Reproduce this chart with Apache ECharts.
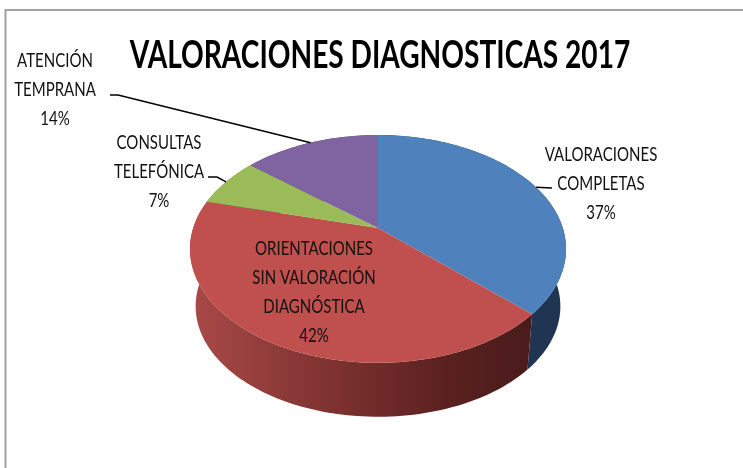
<!DOCTYPE html>
<html>
<head>
<meta charset="utf-8">
<style>
  html, body { margin: 0; padding: 0; background: #fff; }
  #chart { width: 743px; height: 468px; }
</style>
<script src="https://cdn.jsdelivr.net/npm/echarts@6/dist/echarts.min.js"></script>
</head>
<body>
<div id="chart"></div>
<script>
var titleText = 'VALORACIONES DIAGNOSTICAS 2017'
var categories = ['VALORACIONES\nCOMPLETAS', 'ORIENTACIONES\nSIN VALORACIÓN\nDIAGNÓSTICA', 'CONSULTAS\nTELEFÓNICA', 'ATENCIÓN\nTEMPRANA']
var values = [37, 42, 7, 14]
var topColors = ['#4F81BD', '#C0504D', '#9BBB59', '#8064A2']

// pie geometry (perspective of a tilted disc)
var cx = 378
var cy = 228
var radius = 184.8
var squash = 110
var persp = 0.184
var depth = 58
var bottomScale = 0.97

var labelFont = '19px Lato, sans-serif'
var labelSqueeze = 0.79
var labelBoxes = [
  { x: 601, y: 184 },
  { x: 314, y: 292 },
  { x: 159, y: 172 },
  { x: 55, y: 90 }
]
// start of each leader line, null = label sits on the slice
var leaderStarts = [[552, 188], null, [208, 177], [110, 95]]
var leaderBends = [null, null, [217, 177], [118, 95]]

var total = values.reduce(function (a, b) { return a + b }, 0)

function project (turn, scale, dy) {
  var a = turn * 2 * Math.PI
  var u = Math.sin(a)
  var v = Math.cos(a)
  var w = 1 + persp * v
  return [cx + scale * radius * u / w, cy + dy - scale * squash * v / w]
}

function arc (from, to, scale, dy) {
  var pts = []
  var steps = Math.max(4, Math.ceil((to - from) * 240))
  for (var i = 0; i <= steps; i++) {
    pts.push(project(from + (to - from) * i / steps, scale, dy))
  }
  return pts
}

function wallFill (i) {
  if (i === 0) return '#1F3552'
  if (i === 1) {
    return new echarts.graphic.LinearGradient(0, 0, 1, 0, [
      { offset: 0, color: '#A94A47' },
      { offset: 0.4, color: '#7F3331' },
      { offset: 0.75, color: '#5A2120' },
      { offset: 1, color: '#4A1B1B' }
    ])
  }
  return i === 2 ? '#5D7035' : '#4C3C61'
}

function renderItem (params, api) {
  var i = params.dataIndex
  var before = 0
  for (var k = 0; k < i; k++) before += values[k]
  var from = before / total
  var to = (before + api.value(0)) / total
  var mid = (from + to) / 2
  var topArc = arc(from, to, 1, 0)
  var bottomArc = arc(from, to, bottomScale, depth).reverse()
  var children = [{
    type: 'polygon',
    z2: 1,
    shape: { points: topArc.concat(bottomArc) },
    style: { fill: wallFill(i) }
  }, {
    type: 'polygon',
    z2: 2,
    shape: { points: [[cx, cy]].concat(topArc) },
    style: { fill: topColors[i] }
  }, {
    type: 'text',
    z2: 4,
    x: labelBoxes[i].x,
    y: labelBoxes[i].y,
    scaleX: labelSqueeze,
    style: {
      text: categories[i] + '\n' + Math.round(api.value(0) / total * 100) + '%',
      align: 'center',
      verticalAlign: 'middle',
      lineHeight: 29,
      font: labelFont,
      fill: '#111'
    }
  }]
  if (leaderStarts[i]) {
    var line = [leaderStarts[i]]
    if (leaderBends[i]) line.push(leaderBends[i])
    line.push(project(mid, 1, 0))
    children.push({
      type: 'polyline',
      z2: 3,
      shape: { points: line },
      style: { fill: null, stroke: '#000', lineWidth: 1.5 }
    })
  }
  return { type: 'group', children: children }
}

var chart = echarts.init(document.getElementById('chart'))
chart.setOption({
  animation: false,
  backgroundColor: '#fff',
  graphic: [{
    type: 'polyline',
    shape: { points: [[5.5, 468], [5.5, 10], [743, 10]] },
    style: { fill: null, stroke: '#A0A0A0', lineWidth: 2 }
  }, {
    type: 'text',
    x: 380,
    y: 56,
    scaleX: 0.74,
    style: {
      text: titleText,
      align: 'center',
      verticalAlign: 'middle',
      font: 'bold 38px Lato, sans-serif',
      fill: '#000'
    }
  }],
  series: [{
    type: 'custom',
    coordinateSystem: 'none',
    renderItem: renderItem,
    data: values
  }]
})
</script>
</body>
</html>
